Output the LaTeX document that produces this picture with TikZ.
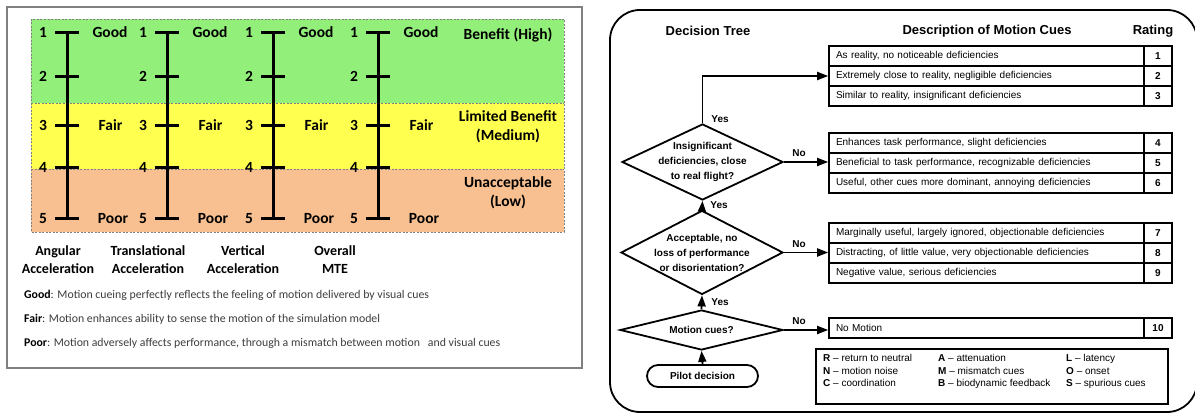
\documentclass[tikz,border=0pt]{standalone}
\usepackage{fontspec}
\setmainfont{Liberation Sans}
\newfontfamily\calfont{Carlito}
\usetikzlibrary{arrows.meta,shapes.geometric}
\definecolor{bandgreen}{RGB}{146,239,122}
\definecolor{bandyellow}{RGB}{255,255,80}
\definecolor{bandorange}{RGB}{248,192,144}
\definecolor{framegray}{RGB}{128,128,128}
\definecolor{desctext}{RGB}{60,60,60}
\begin{document}
\begin{tikzpicture}[x=1pt,y=-1pt,
  axisline/.style={line width=3pt},
  tickline/.style={line width=3pt},
  lab/.style={font=\calfont\bfseries\fontsize{15.5}{18}\selectfont, inner sep=0pt},
  blab/.style={font=\calfont\bfseries\fontsize{14}{18}\selectfont, align=center, inner sep=0pt},
  desc/.style={font=\calfont\fontsize{11.8}{14}\selectfont, text=desctext, anchor=west, inner sep=0pt},
  band/.style={draw=framegray, dashed, dash pattern=on 2pt off 1.5pt, line width=0.8pt},
  dia/.style={draw, diamond, line width=1.8pt, inner sep=0pt},
  dtext/.style={font=\bfseries\fontsize{10}{15}\selectfont, align=center, inner sep=0pt},
  hdr/.style={font=\bfseries\fontsize{13}{15}\selectfont, inner sep=0pt},
  row/.style={draw, line width=1.6pt, minimum width=315pt, minimum height=20pt, text width=301pt, inner xsep=7pt, inner ysep=0pt, align=left, font=\fontsize{10}{12}\selectfont},
  rate/.style={draw, line width=1.6pt, minimum width=28pt, minimum height=20pt, inner sep=0pt, font=\bfseries\fontsize{10}{12}\selectfont},
  arr/.style={line width=1.8pt, -{Triangle[length=11pt,width=8pt]}},
  yn/.style={font=\bfseries\fontsize{10}{12}\selectfont, inner sep=0pt},
  leg/.style={font=\fontsize{10}{12.5}\selectfont, align=left, anchor=north west, inner sep=0pt}
]
\useasboundingbox (0,0) rectangle (1195,414);
% ---------------- left panel ----------------
\draw[framegray, line width=1.5pt] (7,7) rectangle (582,368);
\fill[bandgreen] (31,19) rectangle (564,103);
\fill[bandyellow] (31,103) rectangle (564,169);
\fill[bandorange] (31,169) rectangle (564,232);
\draw[band] (31,19) rectangle (564,232);
\draw[band] (31,103) -- (564,103);
\draw[band] (31,169) -- (564,169);
\foreach \ax/\xx in {1/67,2/167,3/273,4/378} {
  \draw[axisline] (\xx,32.3) -- (\xx,218.3);
  \foreach \k/\yy in {1/32.3,2/76.7,3/125.3,4/167.7,5/218.3} {
    \draw[tickline] (\xx-12,\yy) -- (\xx+12,\yy);
    \node[lab] (n\ax\k) at (\xx-24,\yy) {\k};
  }
  \node[lab] (good\ax) at (\xx+43,32.5) {Good};
  \node[lab] (fair\ax) at (\xx+43.5,125.3) {Fair};
  \node[lab] (poor\ax) at (\xx+46,218.3) {Poor};
}
\node[lab] (high) at (508,35) {Benefit (High)};
\node[lab, align=center, font=\calfont\bfseries\fontsize{15.5}{19}\selectfont] (med) at (508,126.5) {Limited Benefit\\(Medium)};
\node[lab, align=center, font=\calfont\bfseries\fontsize{15.5}{19}\selectfont] (low) at (508,192.5) {Unacceptable\\(Low)};
\node[blab] (ang) at (58,260) {Angular\\Acceleration};
\node[blab] (tra) at (148,260) {Translational\\Acceleration};
\node[blab] (ver) at (243,260) {Vertical\\Acceleration};
\node[blab] (ove) at (335,260) {Overall\\MTE};
\node[desc] (dgood) at (24,295) {\textcolor{black}{\bfseries Good}: Motion cueing perfectly reflects the feeling of motion delivered by visual cues};
\node[desc] (dfair) at (24,319) {\textcolor{black}{\bfseries Fair}: Motion enhances ability to sense the motion of the simulation model};
\node[desc] (dpoor) at (24,343) {\textcolor{black}{\bfseries Poor}: Motion adversely affects performance, through a mismatch between motion\ \ \ and visual cues};
% ---------------- right panel ----------------
\draw[line width=1.8pt, rounded corners=30pt] (610,10) rectangle (1197,412);
\node[hdr] (hdt) at (708,31) {Decision Tree};
\node[hdr] (hdm) at (987,31) {Description of Motion Cues};
\node[hdr] (hdr) at (1153,31) {Rating};
% table rows
\foreach \i/\yy/\txt in {
  1/56/{As reality, no noticeable deficiencies},
  2/76/{Extremely close to reality, negligible deficiencies},
  3/96/{Similar to reality, insignificant deficiencies},
  4/143/{Enhances task performance, slight deficiencies},
  5/163/{Beneficial to task performance, recognizable deficiencies},
  6/183/{Useful, other cues more dominant, annoying deficiencies},
  7/233/{Marginally useful, largely ignored, objectionable deficiencies},
  8/253/{Distracting, of little value, very objectionable deficiencies},
  9/273/{Negative value, serious deficiencies},
  10/328/{No Motion}} {
  \node[row] (r\i) at (986.5,\yy) {\txt};
  \node[rate] (k\i) at (1158,\yy) {\i};
}
% legend
\draw[line width=1.6pt] (816,349) rectangle (1168,404);
\node[leg] (lg1) at (823,354.5) {\textbf{R} -- return to neutral\\\textbf{N} -- motion noise\\\textbf{C} -- coordination};
\node[leg] (lg2) at (938,354.5) {\textbf{A} -- attenuation\\\textbf{M} -- mismatch cues\\\textbf{B} -- biodynamic feedback};
\node[leg] (lg3) at (1066,354.5) {\textbf{L} -- latency\\\textbf{O} -- onset\\\textbf{S} -- spurious cues};
% decision diamonds
\node[dia, minimum width=161pt, minimum height=76pt] (d1) at (702.5,162) {};
\node[dtext] (t1) at (702.5,162) {Insignificant\\deficiencies, close\\to real flight?};
\node[dia, minimum width=162pt, minimum height=84pt] (d2) at (702,252.5) {};
\node[dtext] (t2) at (702,252.5) {Acceptable, no\\loss of performance\\or disorientation?};
\node[dia, minimum width=163pt, minimum height=40pt] (d3) at (701.5,330) {};
\node[dtext] (t3) at (701.5,330) {Motion cues?};
\node[draw, line width=1.8pt, rounded corners=11pt, minimum width=111pt, minimum height=22pt, inner sep=0pt, font=\bfseries\fontsize{10}{12}\selectfont] (pd) at (702.5,376) {Pilot decision};
% connectors
\draw[arr] (pd.north) -- (d3.south);
\draw[arr] (d3.north) -- (d2.south);
\draw[arr] (d2.north) -- (d1.south);
\draw[arr] (d1.north) |- (r2.west);
\draw[arr] (d1.east) -- (d1.east -| r5.west);
\draw[arr] (d2.east) -- (d2.east -| r8.west);
\draw[arr] (d3.east) -- (d3.east -| r10.west);
\node[yn] (y1) at (720,119) {Yes};
\node[yn] (y2) at (719,205) {Yes};
\node[yn] (y3) at (720,302) {Yes};
\node[yn] (no1) at (799,153) {No};
\node[yn] (no2) at (799,244) {No};
\node[yn] (no3) at (799,321) {No};
\end{tikzpicture}
\end{document}
